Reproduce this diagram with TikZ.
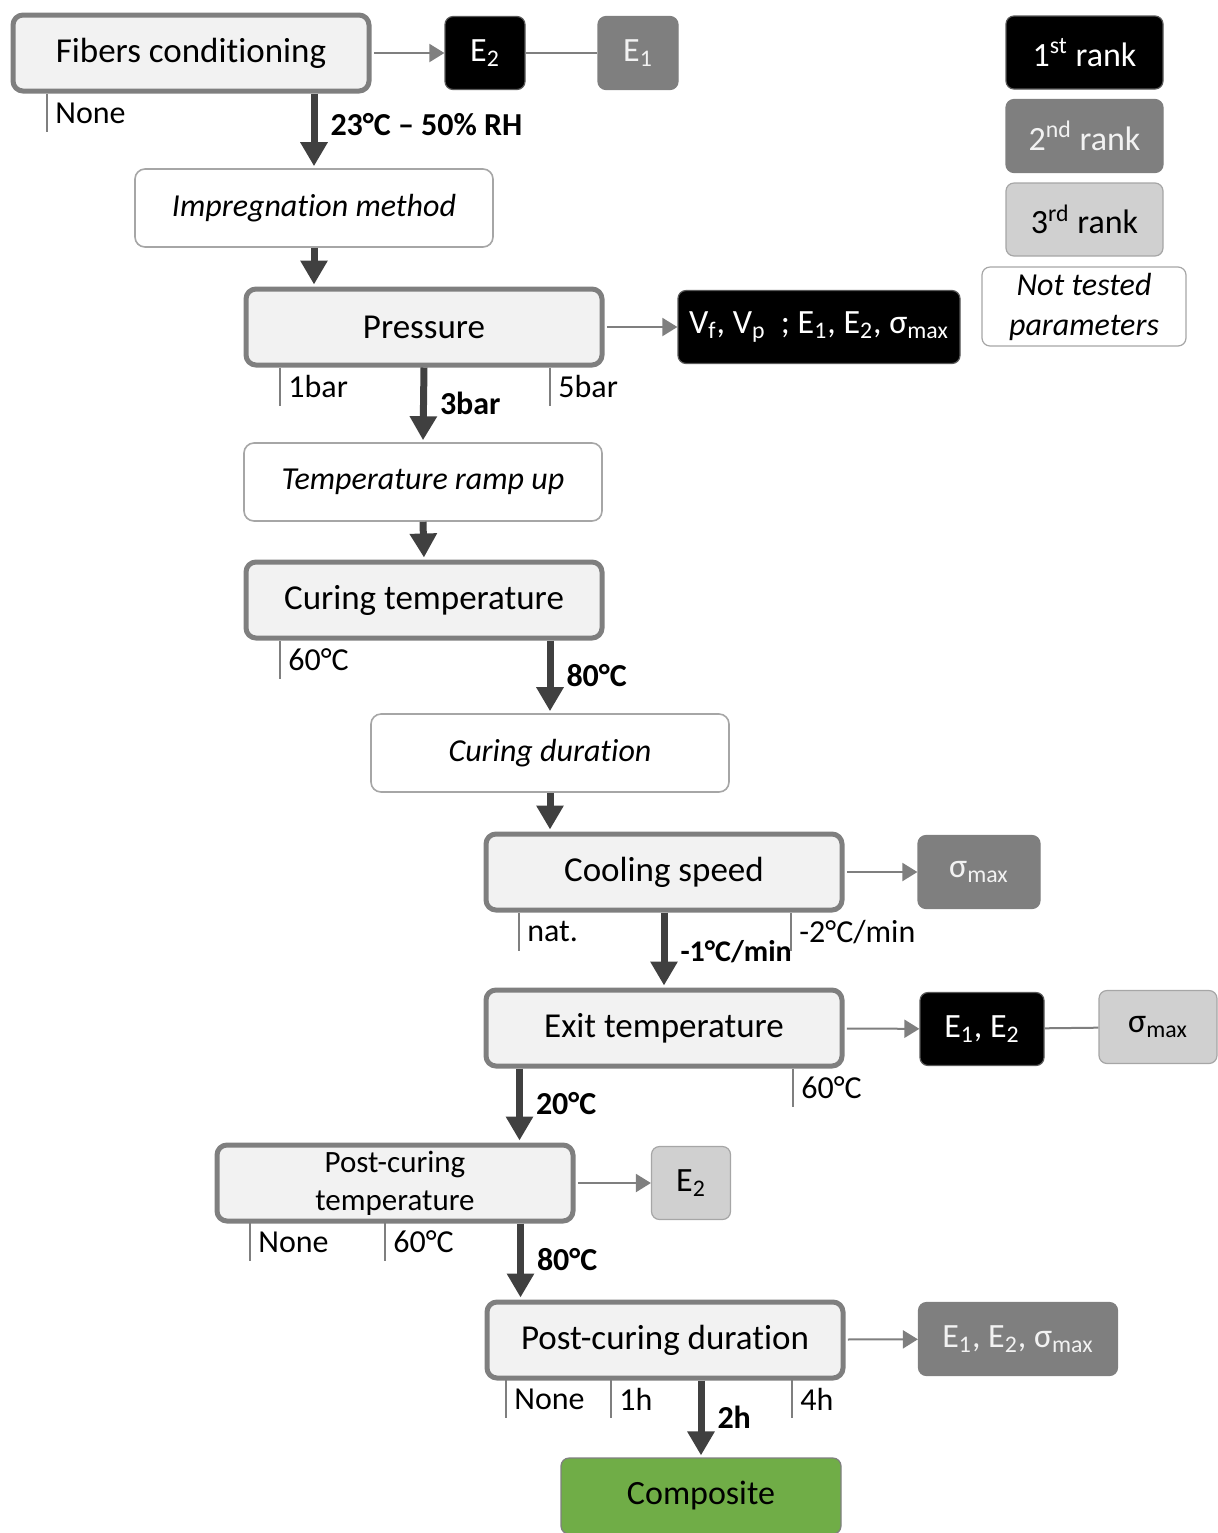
\documentclass[tikz,border=0pt]{standalone}
\usepackage{fontspec}
\setmainfont{Carlito}[Ligatures=NoCommon]
\usepackage{tikz}
\usetikzlibrary{arrows.meta,positioning,calc}
\definecolor{stepbg}{RGB}{242,242,242}
\definecolor{stepline}{RGB}{127,127,127}
\definecolor{flowcol}{RGB}{64,64,64}
\definecolor{secondbg}{RGB}{127,127,127}
\definecolor{thirdbg}{RGB}{208,208,208}
\definecolor{thinline}{RGB}{166,166,166}
\definecolor{compbg}{RGB}{112,173,71}
\tikzset{
  stepbox/.style={
    draw=stepline,
    fill=stepbg,
    line width=2.5pt,
    rounded corners=5pt,
    align=center,
    inner sep=2pt,
    minimum width=178pt,
    minimum height=38pt,
    font=\fontsize{17.5}{19}\selectfont
  },
  freebox/.style={
    draw=thinline,
    fill=white,
    line width=0.8pt,
    rounded corners=5pt,
    align=center,
    minimum width=179pt,
    minimum height=39pt,
    font=\fontsize{16}{19}\selectfont\itshape
  },
  rankbox/.style={
    rounded corners=4pt,
    align=center,
    inner sep=2pt,
    line width=0.6pt,
    minimum height=36.5pt,
    font=\fontsize{17}{19}\selectfont
  },
  firstrank/.style={rankbox, draw=black!65, fill=black, text=white},
  secondrank/.style={rankbox, draw=secondbg, fill=secondbg, text=stepbg},
  thirdrank/.style={rankbox, draw=thinline, fill=thirdbg, text=black},
  setting/.style={
    anchor=north west,
    inner xsep=4pt,
    inner ysep=0pt,
    minimum height=18.5pt,
    font=\fontsize{16}{18}\selectfont
  },
  settingline/.style={draw=stepline, line width=0.6pt},
  flow/.style={-{Triangle[length=12pt,width=13pt]}, line width=3.5pt, draw=flowcol, shorten >=1pt},
  flowlabel/.style={anchor=west, xshift=3pt, inner sep=3.5pt, pos=0.48, font=\fontsize{16}{18}\selectfont\bfseries},
  link/.style={-{Triangle[length=7.5pt,width=9pt]}, line width=1pt, draw=stepline, shorten <=1.2pt},
  plainlink/.style={line width=1pt, draw=stepline}
}

\begin{document}
\begin{tikzpicture}[x=0.5pt, y=-0.5pt]
  \useasboundingbox (0,0) rectangle (1217,1533);

  % process steps
  \node[stepbox] (fibers) at (191,53) {Fibers conditioning};
  \node[freebox] (impreg) at (314,208) {Impregnation method};
  \node[stepbox] (pressure) at (424,327) {Pressure};
  \node[freebox] (ramp) at (423,482) {Temperature ramp up};
  \node[stepbox] (curtemp) at (424,600) {Curing temperature};
  \node[freebox] (curdur) at (550,753) {Curing duration};
  \node[stepbox] (cooling) at (664,872) {Cooling speed};
  \node[stepbox] (exit) at (664,1028) {Exit temperature};
  \node[stepbox, font=\fontsize{15.5}{19}\selectfont] (posttemp) at (395,1183) {Post-curing\\temperature};
  \node[stepbox] (postdur) at (665,1340) {Post-curing duration};
  \node[rankbox, draw=stepline, fill=compbg, minimum width=140pt, minimum height=38pt] (composite) at (701,1496) {Composite};

  % measured properties
  \node[firstrank, minimum width=40pt] (fibE2) at (485,53) {E\textsubscript{2}};
  \node[secondrank, minimum width=40pt] (fibE1) at (638,53) {E\textsubscript{1}};
  \node[firstrank, minimum width=141pt] (pressprop) at (819,327) {V\textsubscript{f}, V\textsubscript{p}\ \ ; E\textsubscript{1}, E\textsubscript{2}, σ\textsubscript{max}};
  \node[secondrank, minimum width=61pt] (coolsig) at (979,872) {σ\textsubscript{max}};
  \node[firstrank, minimum width=62pt] (exitE) at (982,1029) {E\textsubscript{1}, E\textsubscript{2}};
  \node[thirdrank, minimum width=59pt] (exitsig) at (1158,1027) {σ\textsubscript{max}};
  \node[thirdrank, minimum width=39.5pt] (postE2) at (691,1183) {E\textsubscript{2}};
  \node[secondrank, minimum width=99.5pt] (durprop) at (1018,1339) {E\textsubscript{1}, E\textsubscript{2}, σ\textsubscript{max}};

  % legend
  \node[firstrank, minimum width=78.5pt] (rank1) at (1084.5,52.5) {1\textsuperscript{st} rank};
  \node[secondrank, minimum width=78.5pt] (rank2) at (1084.5,136) {2\textsuperscript{nd} rank};
  \node[thirdrank, minimum width=78.5pt] (rank3) at (1084.5,219.5) {3\textsuperscript{rd} rank};
  \node[rankbox, draw=thinline, fill=white, minimum width=102pt, minimum height=39.5pt,
        font=\fontsize{16}{20}\selectfont\itshape] (untested) at (1084,306.5) {Not tested\\parameters};

  % tested settings
  \node[setting] (s1) at (47,94) {None};
  \node[setting] (s2) at (280,368) {1bar};
  \node[setting] (s3) at (550,368) {5bar};
  \node[setting] (s4) at (280,641) {60°C};
  \node[setting] (s5) at (519,913) {nat.};
  \node[setting] (s6) at (791,913) {-2°C/min};
  \node[setting] (s7) at (793,1069) {60°C};
  \node[setting] (s8) at (250,1223) {None};
  \node[setting] (s9) at (385,1223) {60°C};
  \node[setting] (s10) at (506,1380) {None};
  \node[setting] (s11) at (611,1380) {1h};
  \node[setting] (s12) at (792,1380) {4h};
  \foreach \s in {s1,s2,s3,s4,s5,s6,s7,s8,s9,s10,s11,s12}
    \draw[settingline] (\s.north west) -- (\s.south west);

  % main flow
  \draw[flow] (fibers.south -| impreg.north) -- node[flowlabel, pos=0.42] {23°C – 50\% RH} (impreg.north);
  \draw[flow] (impreg.south) -- (impreg.south |- pressure.north);
  \draw[flow] (pressure.south) -- node[flowlabel] {3bar} (ramp.north);
  \draw[flow] (ramp.south) -- (curtemp.north);
  \draw[flow] (curtemp.south -| curdur.north) -- node[flowlabel] {80°C} (curdur.north);
  \draw[flow] (curdur.south) -- (curdur.south |- cooling.north);
  \draw[flow] (cooling.south) -- node[flowlabel, pos=0.52, font=\fontsize{15}{18}\selectfont\bfseries] {-1°C/min} (exit.north);
  \draw[flow] ([xshift=18pt]exit.south west) -- node[flowlabel] {20°C} ([xshift=18pt]exit.south west |- posttemp.north);
  \draw[flow] ([xshift=18pt]postdur.north west |- posttemp.south) -- node[flowlabel] {80°C} ([xshift=18pt]postdur.north west);
  \draw[flow] (postdur.south -| composite.north) -- node[flowlabel] {2h} (composite.north);

  % properties
  \draw[link] (fibers) -- (fibE2);
  \draw[plainlink] (fibE2) -- (fibE1);
  \draw[link] (pressure) -- (pressprop);
  \draw[link] (cooling) -- (coolsig);
  \draw[link] (exit) -- (exitE);
  \draw[plainlink] (exitE) -- (exitsig);
  \draw[link] (posttemp) -- (postE2);
  \draw[link] (postdur) -- (durprop);
\end{tikzpicture}
\end{document}
